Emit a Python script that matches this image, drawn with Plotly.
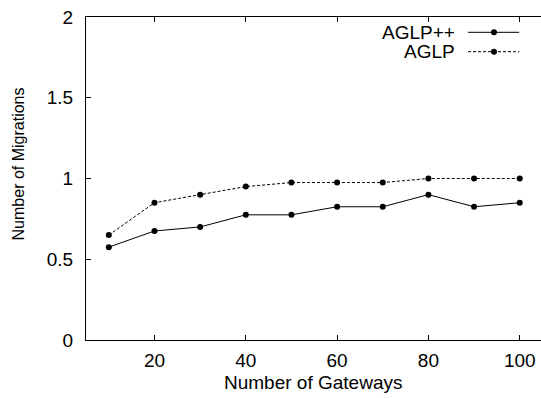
import plotly.graph_objects as go

# Number of gateways on the x axis
gateways = [10, 20, 30, 40, 50, 60, 70, 80, 90, 100]
# Average number of migrations per scheme
aglp_pp = [0.575, 0.675, 0.7, 0.775, 0.775, 0.825, 0.825, 0.9, 0.825, 0.85]
aglp = [0.65, 0.85, 0.9, 0.95, 0.975, 0.975, 0.975, 1.0, 1.0, 1.0]

series_names = ["AGLP++", "AGLP"]
x_ticks = [20, 40, 60, 80, 100]
y_ticks = [0, 0.5, 1, 1.5, 2]
y_tick_text = ["0", "0.5", "1", "1.5", "2"]
x_title = "Number of Gateways"
y_title = "Number of Migrations"

FONT = "Liberation Sans, Arial, Helvetica, sans-serif"
INK = "#000000"
TEXT_SIZE = 19

fig = go.Figure()
fig.add_trace(go.Scatter(
    x=gateways, y=aglp_pp, name=series_names[0], mode="lines+markers",
    line=dict(color=INK, width=1), marker=dict(color=INK, size=6),
    showlegend=False,
))
fig.add_trace(go.Scatter(
    x=gateways, y=aglp, name=series_names[1], mode="lines+markers",
    line=dict(color=INK, width=1, dash="3px,2px"), marker=dict(color=INK, size=6),
    showlegend=False,
))

# Key in the upper right: label on the left, line sample on the right
legend_rows = [(0.9526, "solid"), (0.8926, "3px,2px")]
for name, (ky, dash) in zip(series_names, legend_rows):
    fig.add_annotation(
        x=0.8147, y=ky, xref="paper", yref="paper", text=name,
        showarrow=False, xanchor="right", yanchor="middle",
        font=dict(family=FONT, size=TEXT_SIZE, color=INK),
    )
    fig.add_shape(type="line", xref="paper", yref="paper",
                  x0=0.8396, x1=0.952, y0=ky, y1=ky,
                  line=dict(color=INK, width=1, dash=dash))
    fig.add_shape(type="circle", xref="paper", yref="paper",
                  xsizemode="pixel", ysizemode="pixel",
                  xanchor=0.8967, yanchor=ky,
                  x0=-3, x1=3, y0=-3, y1=3,
                  fillcolor=INK, line=dict(color=INK, width=0))

# Axis titles
fig.add_annotation(
    x=0.4989, y=-0.1331, xref="paper", yref="paper", text=x_title,
    showarrow=False, xanchor="center", yanchor="middle",
    font=dict(family=FONT, size=TEXT_SIZE, color=INK),
)
fig.add_annotation(
    x=-0.1474, y=0.5464, xref="paper", yref="paper", text=y_title,
    showarrow=False, xanchor="center", yanchor="middle", textangle=-90,
    font=dict(family=FONT, size=16, color=INK),
)

axis_common = dict(
    showgrid=False, zeroline=False, ticks="inside", ticklen=5,
    tickcolor=INK, tickwidth=1, linecolor=INK, linewidth=1,
    tickfont=dict(family=FONT, size=TEXT_SIZE, color=INK),
)

fig.update_layout(
    width=541, height=398,
    margin=dict(l=86, r=0, t=17, b=58),
    paper_bgcolor="white", plot_bgcolor="white",
    font=dict(family=FONT, color=INK),
    xaxis=dict(
        range=[5, 104.66], tickvals=x_ticks, showline=True, mirror="ticks",
        ticklabelstandoff=3,
        **axis_common,
    ),
    yaxis=dict(
        range=[0, 2], tickvals=y_ticks, ticktext=y_tick_text, showline=True, mirror=False,
        ticklabelstandoff=8,
        **axis_common,
    ),
    yaxis2=dict(
        range=[0, 2], tickvals=y_ticks, overlaying="y", side="right",
        showticklabels=False, showgrid=False, zeroline=False, showline=False,
        ticks="inside", ticklen=5, tickcolor=INK, tickwidth=1,
    ),
)

fig.write_html("out.html")
